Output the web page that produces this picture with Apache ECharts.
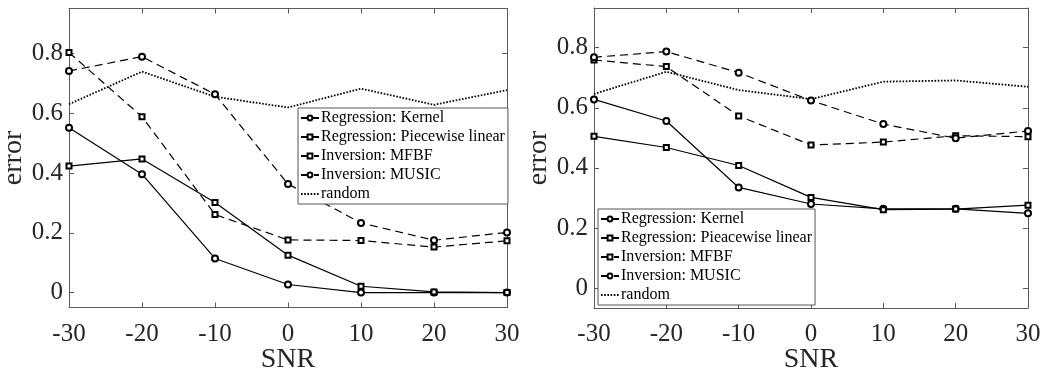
<!DOCTYPE html>
<html>
<head>
<meta charset="utf-8">
<script src="https://cdn.jsdelivr.net/npm/echarts@6/dist/echarts.min.js"></script>
<style>
  html, body { margin: 0; padding: 0; background: #fff; }
  #main { width: 1053px; height: 373px; }
</style>
</head>
<body>
<div id="main"></div>
<script>
// SNR values (x axis)
const snr = [-30, -20, -10, 0, 10, 20, 30];
const yTicks = [0, 0.2, 0.4, 0.6, 0.8];

// left panel
const leftKernel = [0.551, 0.396, 0.114, 0.027, 0.0, 0.0, 0.0];
const leftPiecewise = [0.423, 0.447, 0.301, 0.125, 0.021, 0.002, 0.0];
const leftMFBF = [0.803, 0.588, 0.261, 0.176, 0.174, 0.152, 0.173];
const leftMUSIC = [0.741, 0.789, 0.663, 0.363, 0.233, 0.175, 0.201];
const leftRandom = [0.630, 0.739, 0.655, 0.619, 0.682, 0.628, 0.677];

// right panel
const rightKernel = [0.628, 0.556, 0.335, 0.280, 0.264, 0.264, 0.249];
const rightPiecewise = [0.505, 0.468, 0.408, 0.302, 0.261, 0.263, 0.276];
const rightMFBF = [0.759, 0.737, 0.573, 0.476, 0.486, 0.507, 0.504];
const rightMUSIC = [0.768, 0.787, 0.717, 0.624, 0.546, 0.499, 0.523];
const rightRandom = [0.646, 0.720, 0.659, 0.629, 0.687, 0.691, 0.670];

const leftNames = ['Regression: Kernel', 'Regression: Piecewise linear', 'Inversion: MFBF', 'Inversion: MUSIC', 'random'];
const rightNames = ['Regression: Kernel', 'Regression: Pieacewise linear', 'Inversion: MFBF', 'Inversion: MUSIC', 'random'];

const chart = echarts.init(document.getElementById('main'), null, { renderer: 'canvas' });

const FONT = '"Liberation Serif", "Times New Roman", serif';
const TEXT = '#262626';
const AXIS = '#5a5a5a';

const pairs = (ys) => snr.map((x, i) => [x, ys[i]]);

// solid / dashed / dotted
const styles = [
  { symbol: 'emptyCircle', size: 6, type: 'solid' },
  { symbol: 'emptyRect', size: 5, type: 'solid' },
  { symbol: 'emptyRect', size: 5, type: [8, 5] },
  { symbol: 'emptyCircle', size: 6, type: [8, 5] },
  { symbol: 'none', size: 0, type: [1.6, 1.6], width: 1.8 }
];

const makeSeries = (names, datas, xi, yi) => names.map((name, k) => ({
  name: name,
  type: 'line',
  xAxisIndex: xi,
  yAxisIndex: yi,
  data: pairs(datas[k]),
  symbol: styles[k].symbol,
  symbolSize: styles[k].size,
  showSymbol: styles[k].symbol !== 'none',
  itemStyle: { color: '#000', borderColor: '#000', borderWidth: 1 },
  lineStyle: { color: '#000', width: styles[k].width || 1.2, type: styles[k].type },
  emphasis: { disabled: true },
  animation: false,
  z: 3
}));

const xAxisFor = (gi, pos, show) => ({
  type: 'value',
  gridIndex: gi,
  position: pos,
  min: -30,
  max: 30,
  interval: 10,
  name: show ? 'SNR' : '',
  nameLocation: 'middle',
  nameGap: 38,
  nameMoveOverlap: false,
  nameTextStyle: { fontFamily: FONT, fontSize: 28, color: TEXT },
  axisLine: { show: true, onZero: false, lineStyle: { color: AXIS, width: 1 } },
  axisTick: { show: true, inside: true, length: 5, lineStyle: { color: AXIS } },
  axisLabel: { show: show, margin: 14, fontFamily: FONT, fontSize: 25, color: TEXT },
  splitLine: { show: false }
});

const yAxisFor = (gi, pos, show, min, max) => ({
  type: 'value',
  gridIndex: gi,
  position: pos,
  min: min,
  max: max,
  name: show ? 'error' : '',
  nameLocation: 'middle',
  nameGap: 33,
  nameTextStyle: { fontFamily: FONT, fontSize: 28, color: TEXT },
  axisLine: { show: true, onZero: false, lineStyle: { color: AXIS, width: 1 } },
  axisTick: { show: true, inside: true, length: 5, customValues: yTicks, lineStyle: { color: AXIS } },
  axisLabel: { show: show, margin: 6, fontFamily: FONT, fontSize: 25, color: TEXT, customValues: yTicks },
  splitLine: { show: false }
});

const legendFor = (names, left, top) => ({
  data: names.map(n => n === 'random' ? { name: n, itemStyle: { opacity: 0 } } : n),
  orient: 'vertical',
  left: left,
  top: top,
  itemWidth: 18,
  itemHeight: 6,
  itemGap: 3,
  padding: [2, 3, 2, 2],
  backgroundColor: '#fff',
  borderColor: '#555',
  borderWidth: 1,
  borderRadius: 0,
  selectedMode: false,
  textStyle: { fontFamily: FONT, fontSize: 16, color: '#000', lineHeight: 16, padding: [0, 0, 0, -3] }
});

const option = {
  backgroundColor: '#fff',
  animation: false,
  grid: [
    { left: 69, top: 8.5, width: 438, height: 299, outerBoundsMode: 'none', containLabel: false },
    { left: 594, top: 8, width: 434, height: 300, outerBoundsMode: 'none', containLabel: false }
  ],
  xAxis: [
    xAxisFor(0, 'bottom', true),
    xAxisFor(0, 'top', false),
    xAxisFor(1, 'bottom', true),
    xAxisFor(1, 'top', false)
  ],
  yAxis: [
    yAxisFor(0, 'left', true, -0.05, 0.95),
    yAxisFor(0, 'right', false, -0.05, 0.95),
    yAxisFor(1, 'left', true, -0.066, 0.932),
    yAxisFor(1, 'right', false, -0.066, 0.932)
  ],
  legend: [
    legendFor(leftNames, 298, 108),
    legendFor(rightNames, 598, 209)
  ],
  series: [
    ...makeSeries(leftNames, [leftKernel, leftPiecewise, leftMFBF, leftMUSIC, leftRandom], 0, 0),
    ...makeSeries(rightNames, [rightKernel, rightPiecewise, rightMFBF, rightMUSIC, rightRandom], 2, 2)
  ]
};

chart.setOption(option);
window.addEventListener('resize', chart.resize);
</script>
</body>
</html>
